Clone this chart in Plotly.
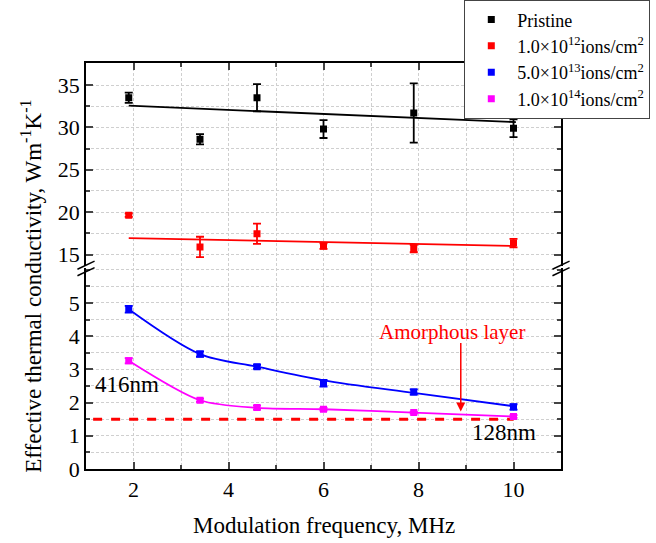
import plotly.graph_objects as go

# ---------------- data ----------------
freq = [1.9, 3.4, 4.6, 6.0, 7.9, 10.0]

pristine = [33.5, 28.6, 33.5, 29.8, 31.7, 29.9]
pristine_err = [0.6, 0.6, 1.6, 1.05, 3.5, 1.05]

d1e12 = [19.65, 15.9, 17.45, 16.0, 15.7, 16.35]
d1e12_err = [0.2, 1.2, 1.2, 0.33, 0.43, 0.5]

d5e13 = [4.81, 3.46, 3.08, 2.58, 2.32, 1.87]
d5e13_err = [0.1, 0.08, 0.06, 0.1, 0.08, 0.08]

d1e14 = [3.26, 2.07, 1.85, 1.80, 1.70, 1.58]
d1e14_err = [0.08, 0.05, 0.06, 0.04, 0.03, 0.04]

# fitted curves
fit_x = [1.9, 10.05]
pristine_fit = [32.56, 30.63]
d1e12_fit = [16.94, 16.0]
d5e13_fit = [4.81, 3.46, 3.08, 2.67, 2.29, 1.89]
d1e14_fit = [3.26, 2.07, 1.84, 1.80, 1.70, 1.58]

amorph_x = [1.15, 10.0]
amorph_y = [1.5, 1.5]

names = ["Pristine",
         "1.0×10<sup>12</sup>ions/cm<sup>2</sup>",
         "5.0×10<sup>13</sup>ions/cm<sup>2</sup>",
         "1.0×10<sup>14</sup>ions/cm<sup>2</sup>"]
colors = ["#000000", "#ff0000", "#0000ff", "#ff00ff"]

FONT = "Liberation Serif, Times New Roman, serif"
GRID = "#cfcfcf"
GDASH = "3px,2px"

fig = go.Figure()

# fit / guide lines (no legend)
fig.add_trace(go.Scatter(x=fit_x, y=pristine_fit, mode="lines", line=dict(color=colors[0], width=1.8),
                         xaxis="x2", yaxis="y2", showlegend=False, hoverinfo="skip"))
fig.add_trace(go.Scatter(x=fit_x, y=d1e12_fit, mode="lines", line=dict(color=colors[1], width=1.8),
                         xaxis="x2", yaxis="y2", showlegend=False, hoverinfo="skip"))
fig.add_trace(go.Scatter(x=freq, y=d5e13_fit, mode="lines", line=dict(color=colors[2], width=1.8, shape="spline", smoothing=0.9),
                         xaxis="x", yaxis="y", showlegend=False, hoverinfo="skip"))
fig.add_trace(go.Scatter(x=freq, y=d1e14_fit, mode="lines", line=dict(color=colors[3], width=1.8, shape="spline", smoothing=0.8),
                         xaxis="x", yaxis="y", showlegend=False, hoverinfo="skip"))
fig.add_trace(go.Scatter(x=amorph_x, y=amorph_y, mode="lines", line=dict(color="#ff0000", width=3, dash="dash"),
                         xaxis="x", yaxis="y", showlegend=False, hoverinfo="skip"))

# data points
series = [(pristine, pristine_err, "x2", "y2"),
          (d1e12, d1e12_err, "x2", "y2"),
          (d5e13, d5e13_err, "x", "y"),
          (d1e14, d1e14_err, "x", "y")]
for (vals, errs, xa, ya), nm, c in zip(series, names, colors):
    fig.add_trace(go.Scatter(
        x=freq, y=vals, mode="markers", name=nm,
        marker=dict(symbol="square", size=7, color=c),
        error_y=dict(type="data", array=errs, visible=True, color=c, thickness=1.8, width=4),
        xaxis=xa, yaxis=ya))

grid = dict(showgrid=True, gridcolor=GRID, griddash=GDASH, gridwidth=1)
common_x = dict(range=[1, 11], dtick=2, tick0=0, ticks="inside", ticklen=7, tickwidth=1.5,
                showline=True, linecolor="black", linewidth=1.8, zeroline=False,
                minor=dict(dtick=1, ticks="inside", ticklen=4, tickwidth=1.5, showgrid=True,
                           gridcolor=GRID, griddash=GDASH),
                **grid)

fig.update_layout(
    width=656, height=543,
    margin=dict(l=86, r=95, t=63, b=74, autoexpand=False),
    paper_bgcolor="white", plot_bgcolor="white",
    font=dict(family=FONT, size=22, color="black"),
    xaxis=dict(anchor="y", domain=[0, 1], mirror=False, tickfont=dict(size=22),
               **common_x),
    xaxis2=dict(anchor="y2", domain=[0, 1], matches="x", side="top", showticklabels=False,
                **common_x),
    yaxis=dict(domain=[0, 0.494], range=[0, 6.04], dtick=1, tick0=0, ticks="inside", ticklen=7,
               tickwidth=1.5, showline=True, linecolor="black", linewidth=1.8, mirror="ticks",
               zeroline=False, anchor="x", tickfont=dict(size=22),
               tickvals=[0, 1, 2, 3, 4, 5],
               minor=dict(dtick=0.5, ticks="inside", ticklen=4, tickwidth=1.5, showgrid=True,
                          gridcolor=GRID, griddash=GDASH),
               **grid),
    yaxis2=dict(domain=[0.499, 1], range=[13.6, 37.6], dtick=5, tick0=0, ticks="inside", ticklen=7,
                tickwidth=1.5, showline=True, linecolor="black", linewidth=1.8, mirror="ticks",
                zeroline=False, anchor="x2", tickfont=dict(size=22),
                tickvals=[15, 20, 25, 30, 35],
                minor=dict(dtick=2.5, ticks="inside", ticklen=4, tickwidth=1.5, showgrid=True,
                           gridcolor=GRID, griddash=GDASH),
                **grid),
    legend=dict(x=0.796, y=1.155, xanchor="left", yanchor="top",
                bgcolor="white", bordercolor="#444444", borderwidth=1.2,
                font=dict(family=FONT, size=18), tracegroupgap=0, itemwidth=42),
    showlegend=True,
)

# axis titles
fig.add_annotation(text="Effective thermal conductivity, Wm<sup>-1</sup>K<sup>-1</sup>",
                   xref="paper", yref="paper", x=-0.115, y=0.45, textangle=-90,
                   showarrow=False, font=dict(size=23), xanchor="center", yanchor="middle")
fig.add_annotation(text="Modulation frequency, MHz", xref="paper", yref="paper",
                   x=0.5, y=-0.138, showarrow=False, font=dict(size=23),
                   xanchor="center", yanchor="middle")

# in-plot text
fig.add_annotation(text="416nm", x=1.15, y=2.54, xref="x", yref="y", xanchor="left",
                   showarrow=False, font=dict(size=23, color="black"))
fig.add_annotation(text="128nm", x=9.08, y=1.09, xref="x", yref="y", xanchor="left",
                   showarrow=False, font=dict(size=23, color="black"))
fig.add_annotation(text="Amorphous layer", x=8.70, y=4.14, xref="x", yref="y",
                   showarrow=False, font=dict(size=21, color="#ff0000"))
fig.add_annotation(x=8.89, y=1.73, ax=8.89, ay=3.84, xref="x", yref="y", axref="x", ayref="y",
                   text="", showarrow=True, arrowhead=2, arrowsize=1.2, arrowwidth=1.5,
                   arrowcolor="#ff0000")

# axis break marks
for xp in [0.0, 1.0]:
    for dy in [-0.012, 0.004]:
        fig.add_shape(type="line", xref="paper", yref="paper",
                      x0=xp - 0.018, y0=0.488 + dy, x1=xp + 0.018, y1=0.508 + dy,
                      line=dict(color="black", width=1.5))

fig.write_html("out.html", config={"displayModeBar": False},
               post_script="document.body.style.margin='0';document.body.style.padding='0';")
